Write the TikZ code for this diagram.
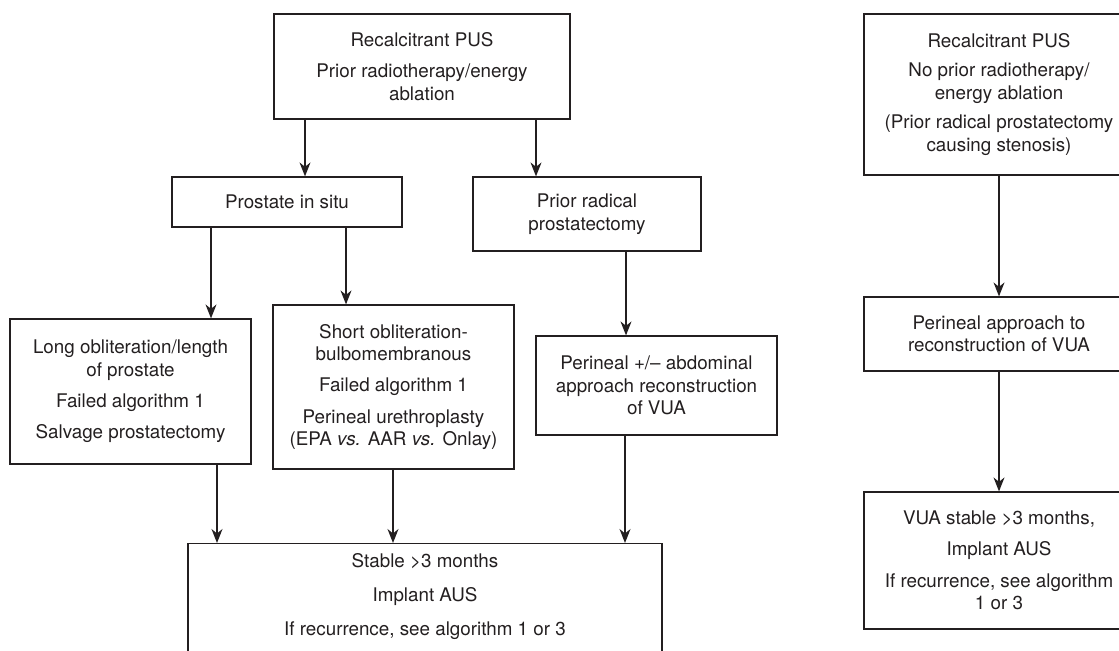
\documentclass[tikz,border=0pt]{standalone}
\usepackage{fontspec}
\setmainfont{TeX Gyre Heros}
\usetikzlibrary{arrows.meta}
\definecolor{ink}{RGB}{35,31,32}
\begin{document}
\begin{tikzpicture}[x=0.02cm,y=-0.02cm]
\tikzset{
  box/.style={draw=ink, line width=0.7pt, text=ink, inner sep=0pt, align=center,
    font=\fontsize{10.7pt}{12.8pt}\selectfont},
  arr/.style={draw=ink, line width=0.7pt, -{Stealth[length=0.28cm,width=0.22cm,inset=0.09cm]}},
}
\useasboundingbox (0,0) rectangle (1119,651);

\node[box, minimum width=5.92cm, minimum height=2.10cm] (A) at (422,66.5)
  {Recalcitrant PUS\\[5pt] Prior radiotherapy/energy\\ ablation};
\node[box, minimum width=4.60cm, minimum height=1.00cm] (B) at (287,202)
  {Prostate in situ};
\node[box, minimum width=4.56cm, minimum height=1.48cm] (C) at (587,214)
  {Prior radical\\ prostatectomy};
\node[box, minimum width=4.82cm, minimum height=2.90cm] (D) at (130.5,391.5)
  {Long obliteration/length\\ of prostate\\[5pt] Failed algorithm 1\\[5pt] Salvage prostatectomy};
\node[box, minimum width=4.82cm, minimum height=3.28cm] (E) at (393.5,387)
  {Short obliteration-\\ bulbomembranous\\[5pt] Failed algorithm 1\\[5pt] Perineal urethroplasty\\ (EPA \textit{vs.} AAR \textit{vs.} Onlay)};
\node[box, minimum width=4.82cm, minimum height=1.98cm] (F) at (656.5,385.5)
  {Perineal +/– abdominal\\ approach reconstruction\\ of VUA};
\node[box, anchor=north, minimum width=9.48cm, inner ysep=5.7pt, text depth=60pt] (G) at (425,543)
  {Stable >3 months\\[6.5pt] Implant AUS\\[6.5pt] If recurrence, see algorithm 1 or 3};

\node[box, minimum width=5.40cm, minimum height=3.22cm] (H) at (999,94.5)
  {Recalcitrant PUS\\[4pt] No prior radiotherapy/\\ energy ablation\\[4pt] (Prior radical prostatectomy\\ causing stenosis)};
\node[box, minimum width=5.40cm, minimum height=1.48cm] (I) at (999,334)
  {Perineal approach to\\ reconstruction of VUA};
\node[box, minimum width=5.40cm, minimum height=2.74cm] (J) at (999,560.5)
  {VUA stable >3 months,\\[5pt] Implant AUS\\[5pt] If recurrence, see algorithm\\ 1 or 3};

\coordinate (x305) at (305,0);
\coordinate (x536) at (536,0);
\coordinate (x211) at (211,0);
\coordinate (x346) at (346,0);
\coordinate (x626) at (626,0);
\coordinate (x217) at (217,0);
\coordinate (x393) at (393,0);
\coordinate (x625) at (625,0);

\draw[arr] (A.south -| x305) -- (B.north -| x305);
\draw[arr] (A.south -| x536) -- (C.north -| x536);
\draw[arr] (B.south -| x211) -- (D.north -| x211);
\draw[arr] (B.south -| x346) -- (E.north -| x346);
\draw[arr] (C.south -| x626) -- (F.north -| x626);
\draw[arr] (D.south -| x217) -- (G.north -| x217);
\draw[arr] (E.south -| x393) -- (G.north -| x393);
\draw[arr] (F.south -| x625) -- (G.north -| x625);
\draw[arr] (H.south) -- (I.north);
\draw[arr] (I.south) -- (J.north);
\end{tikzpicture}
\end{document}
